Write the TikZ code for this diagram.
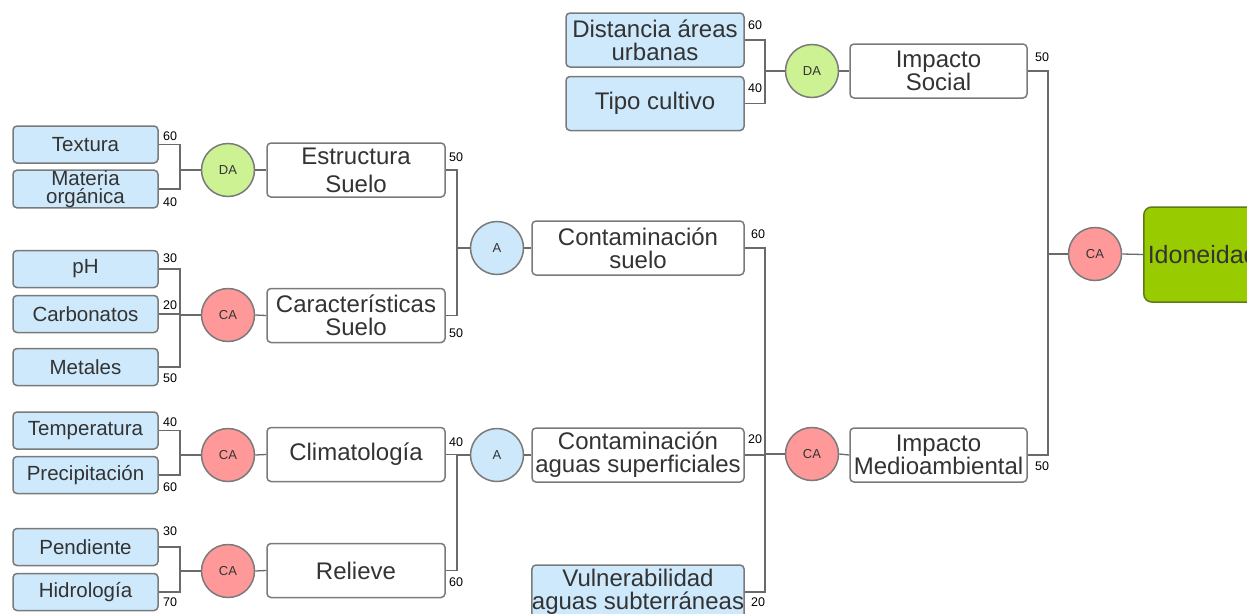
\documentclass[tikz,border=0pt]{standalone}
\usepackage{fontspec}
\setmainfont{Liberation Sans}
\usetikzlibrary{calc}
\definecolor{leafblue}{HTML}{CDE9FB}
\definecolor{dagreen}{HTML}{CCF294}
\definecolor{cared}{HTML}{FF9999}
\definecolor{ablue}{HTML}{CDE8FA}
\definecolor{idgreen}{HTML}{99CC00}
\definecolor{idborder}{HTML}{5E7A1A}
\definecolor{bordergray}{HTML}{7A7A7A}
\definecolor{linegray}{HTML}{6A6A6A}
\definecolor{txt}{HTML}{333333}
\begin{document}
\begin{tikzpicture}[x=1pt,y=-1pt,
  box/.style={draw=bordergray, line width=1.5pt, rounded corners=4pt, inner sep=0pt, align=center, text=txt},
  leaf/.style={box, fill=leafblue, minimum width=145pt, minimum height=37pt, font=\fontsize{20.5}{18.5}\selectfont},
  crit/.style={box, fill=white, minimum width=178pt, minimum height=54pt, font=\fontsize{24}{23}\selectfont},
  critblue/.style={crit, fill=leafblue},
  wide/.style={crit, minimum width=212pt},
  op/.style={circle, draw=bordergray, line width=1.5pt, minimum size=53pt, inner sep=0pt, font=\fontsize{13}{13}\selectfont, text=txt},
  wt/.style={font=\fontsize{12.5}{12.5}\selectfont, inner sep=0pt, text=black},
  conn/.style={draw=linegray, line width=1.3pt}
]
\useasboundingbox (0,0) rectangle (1247,613);
\fill[white] (0,0) rectangle (1247,613);
\clip (0,0) rectangle (1247,613);

% bracket x positions
\coordinate (b1) at (180,0);
\coordinate (b2) at (457,0);
\coordinate (b3) at (765,0);
\coordinate (b4) at (1048,0);

% leaves (left)
\node[leaf] (tex) at (85.5,144.5) {Textura};
\node[leaf] (mat) at (85.5,189) {Materia\\orgánica};
\node[leaf] (ph) at (85.5,269) {pH};
\node[leaf] (carb) at (85.5,314) {Carbonatos};
\node[leaf] (met) at (85.5,367) {Metales};
\node[leaf] (temp) at (85.5,430.5) {Temperatura};
\node[leaf] (prec) at (85.5,475) {Precipitación};
\node[leaf] (pend) at (85.5,547) {Pendiente};
\node[leaf] (hidr) at (85.5,592) {Hidrología};

% operators left
\node[op, fill=dagreen] (da1) at (228,170) {DA};
\node[op, fill=cared] (ca1) at (228,315) {CA};
\node[op, fill=cared] (ca2) at (228,455) {CA};
\node[op, fill=cared] (ca3) at (228,571) {CA};

% criteria
\node[crit, font=\fontsize{24}{28}\selectfont] (est) at (356,170) {Estructura\\Suelo};
\node[crit] (car) at (356,315.5) {Características\\Suelo};
\node[crit] (clim) at (356,454.5) {Climatología};
\node[crit] (rel) at (356,570.5) {Relieve};

\node[op, fill=ablue] (a1) at (497,248) {A};
\node[op, fill=ablue] (a2) at (497,455) {A};

\node[wide] (cs) at (638,248) {Contaminación\\suelo};
\node[wide] (cas) at (638,455) {Contaminación\\aguas superficiales};
\node[wide, fill=leafblue] (vul) at (638,592) {Vulnerabilidad\\aguas subterráneas};

\node[critblue] (dist) at (655,40) {Distancia áreas\\urbanas};
\node[critblue] (tipo) at (655,103.5) {Tipo cultivo};

\node[op, fill=dagreen] (da2) at (812,71) {DA};
\node[op, fill=cared] (ca4) at (812,454) {CA};

\node[crit, minimum width=177pt] (is) at (938.5,71) {Impacto\\Social};
\node[crit, minimum width=177pt] (im) at (938.5,455) {Impacto\\Medioambiental};

\node[op, fill=cared] (caf) at (1095,254) {CA};
\node[box, fill=idgreen, draw=idborder, rounded corners=8pt, minimum height=95pt, text width=150pt, align=left, inner xsep=4pt, anchor=west, font=\fontsize{25}{25}\selectfont] (ido) at (1143,254.5) {Idoneidad};

% connectors
\draw[conn] (tex.east) -- (tex.east -| b1) |- (da1.west);
\draw[conn] (mat.east) -- (mat.east -| b1) |- (da1.west);
\draw[conn] (ph.east) -- (ph.east -| b1) |- (ca1.west);
\draw[conn] (carb.east) -- (carb.east -| b1) |- (ca1.west);
\draw[conn] (met.east) -- (met.east -| b1) |- (ca1.west);
\draw[conn] (temp.east) -- (temp.east -| b1) |- (ca2.west);
\draw[conn] (prec.east) -- (prec.east -| b1) |- (ca2.west);
\draw[conn] (pend.east) -- (pend.east -| b1) |- (ca3.west);
\draw[conn] (hidr.east) -- (hidr.east -| b1) |- (ca3.west);

\draw[conn] (da1.east) -- (est.west);
\draw[conn] (ca1.east) -- (car.west);
\draw[conn] (ca2.east) -- (clim.west);
\draw[conn] (ca3.east) -- (rel.west);

\draw[conn] (est.east) -- (est.east -| b2) |- (a1.west);
\draw[conn] (car.east) -- (car.east -| b2) |- (a1.west);
\draw[conn] (clim.east) -- (clim.east -| b2) |- (a2.west);
\draw[conn] (rel.east) -- (rel.east -| b2) |- (a2.west);

\draw[conn] (a1.east) -- (cs.west);
\draw[conn] (a2.east) -- (cas.west);

\draw[conn] (cs.east) -- (cs.east -| b3) |- (ca4.west);
\draw[conn] (cas.east) -- (cas.east -| b3) |- (ca4.west);
\draw[conn] (vul.east) -- (vul.east -| b3) |- (ca4.west);
\draw[conn] (dist.east) -- (dist.east -| b3) |- (da2.west);
\draw[conn] (tipo.east) -- (tipo.east -| b3) |- (da2.west);

\draw[conn] (da2.east) -- (is.west);
\draw[conn] (ca4.east) -- (im.west);

\draw[conn] (is.east) -- (is.east -| b4) |- (caf.west);
\draw[conn] (im.east) -- (im.east -| b4) |- (caf.west);
\draw[conn] (caf.east) -- (ido.west);

% weights
\node[wt] (w1) at (170,136) {60};
\node[wt] (w2) at (170,202) {40};
\node[wt] (w3) at (170,258) {30};
\node[wt] (w4) at (170,305) {20};
\node[wt] (w5) at (170,378) {50};
\node[wt] (w6) at (170,422) {40};
\node[wt] (w7) at (170,487) {60};
\node[wt] (w8) at (170,531) {30};
\node[wt] (w9) at (170,602) {70};
\node[wt] (w10) at (456,157) {50};
\node[wt] (w11) at (456,333) {50};
\node[wt] (w12) at (456,442) {40};
\node[wt] (w13) at (456,582) {60};
\node[wt] (w14) at (755,25) {60};
\node[wt] (w15) at (755,88) {40};
\node[wt] (w16) at (758,234) {60};
\node[wt] (w17) at (755,439) {20};
\node[wt] (w18) at (758,602) {20};
\node[wt] (w19) at (1042,57) {50};
\node[wt] (w20) at (1042,466) {50};
\end{tikzpicture}
\end{document}
